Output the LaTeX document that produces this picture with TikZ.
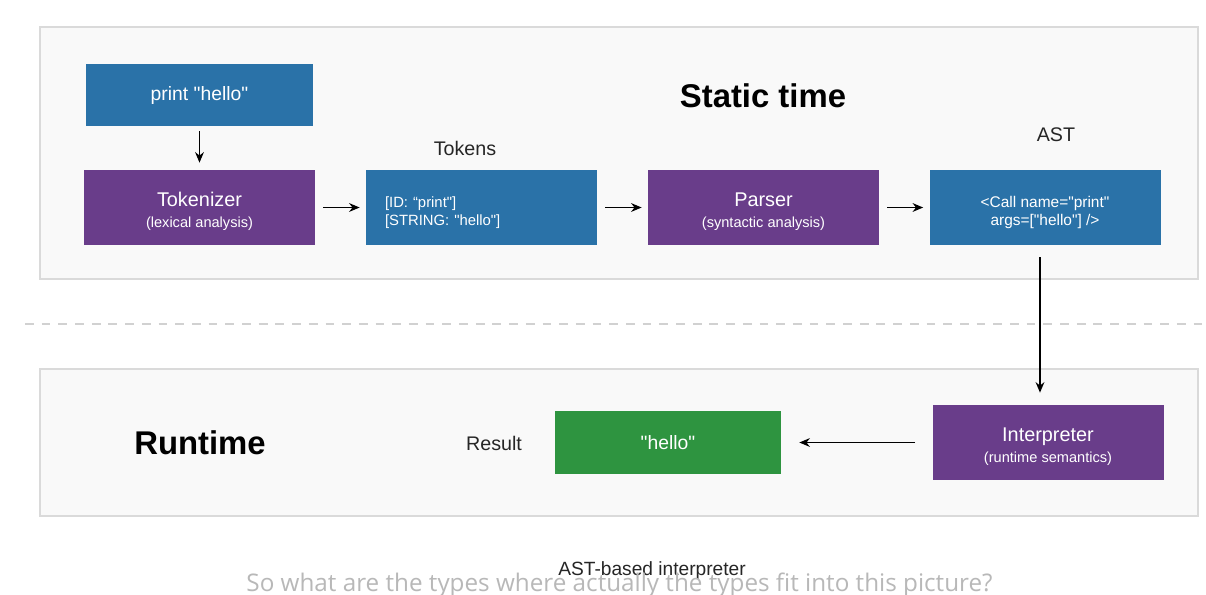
\documentclass[tikz,border=0pt]{standalone}
\usepackage{fontspec}
\setmainfont{Liberation Sans}
\newfontfamily\capfont{Open Sans}
\usetikzlibrary{arrows.meta}
\definecolor{boxblue}{RGB}{42,114,168}
\definecolor{boxpurple}{RGB}{105,61,138}
\definecolor{boxgreen}{RGB}{46,148,64}
\definecolor{panelfill}{RGB}{249,249,249}
\definecolor{panelline}{RGB}{218,218,218}
\newcommand{\bigtext}{\fontsize{11.3}{12}\selectfont\rule{0pt}{13pt}}
\newcommand{\subtext}{\fontsize{8.3}{10}\selectfont}
\newcommand{\dq}{\XeTeXglyph\XeTeXcharglyph"22\relax}

\begin{document}
\begin{tikzpicture}[>={Stealth[length=6pt,width=5pt]}]
	\tikzstyle{panel}=[fill=panelfill,draw=panelline,line width=0.6pt]
	\tikzstyle{box}=[rectangle,text=white,minimum width=4.62cm,minimum height=1.5cm,align=center,inner sep=0pt]
	\tikzstyle{title}=[font=\fontsize{18.7}{20}\selectfont\bfseries]
	\tikzstyle{label}=[font=\fontsize{11.2}{12}\selectfont,text=black!85]
	\tikzstyle{flow}=[->,line width=0.8pt,shorten <=0.16cm,shorten >=0.12cm]
	\useasboundingbox (0,0) rectangle (24.12,-11.88);
	\fill[white] (0,0) rectangle (24.12,-11.88);
	\draw[panel] (0.8,-0.54) rectangle (23.96,-5.58);
	\draw[panel] (0.8,-7.38) rectangle (23.96,-10.32);
	\draw[black!18,line width=1pt,dash pattern=on 5pt off 4.5pt] (0.5,-6.48) -- (24.12,-6.48);
	\node[title](static) at (15.26,-1.92) {Static time};
	\node[title](runtime) at (4.0,-8.86) {Runtime};
	\node[label](tokenslbl) at (9.3,-2.96) {Tokens};
	\node[label](astlbl) at (21.12,-2.70) {AST};
	\node[label](resultlbl) at (9.88,-8.86) {Result};
	\node[box,fill=boxblue,minimum width=4.54cm,minimum height=1.24cm,font=\fontsize{11}{12}\selectfont](source) at (3.99,-1.90) {print \dq hello\dq};
	\node[box,fill=boxpurple](tokenizer) at (3.99,-4.15) {\bigtext Tokenizer\\[0pt]\subtext (lexical analysis)};
	\node[box,fill=boxblue,align=left,text width=3.86cm,font=\fontsize{8.45}{9.8}\selectfont](tokens) at (9.63,-4.15) {\rule{0pt}{12pt}[ID: “print\dq]\\{}[STRING: \dq hello\dq]};
	\node[box,fill=boxpurple](parser) at (15.27,-4.15) {\bigtext Parser\\[0pt]\subtext (syntactic analysis)};
	\node[box,fill=boxblue,font=\fontsize{8.8}{9.8}\selectfont](ast) at (20.90,-4.15) {\rule{0pt}{12pt}<Call name=\dq print\dq\\args=[\dq hello\dq] />};
	\node[box,fill=boxpurple](interp) at (20.96,-8.85) {\bigtext Interpreter\\[0pt]\subtext (runtime semantics)};
	\node[box,fill=boxgreen,minimum width=4.52cm,minimum height=1.26cm,font=\fontsize{11}{12}\selectfont](result) at (13.36,-8.85) {\dq hello\dq};
	\draw[flow,shorten <=0.1cm,shorten >=0.14cm](source) -- (tokenizer);
	\draw[flow](tokenizer) -- (tokens);
	\draw[flow](tokens) -- (parser);
	\draw[flow](parser) -- (ast);
	\draw[flow,shorten <=0.24cm,shorten >=0.24cm]([xshift=-0.1cm]ast.south) -- ([xshift=-0.1cm]ast.south |- interp.north);
	\draw[flow,shorten <=0.34cm,shorten >=0.36cm](interp) -- (result);
	\node[label,font=\fontsize{10.9}{12}\selectfont](caption) at (13.04,-11.42) {AST-based interpreter};
	\node[text=black!28,font=\capfont\fontsize{13.8}{15}\selectfont](subtitle) at (12.39,-11.70) {So what are the types where actually the types fit into this picture?};
\end{tikzpicture}
\end{document}
